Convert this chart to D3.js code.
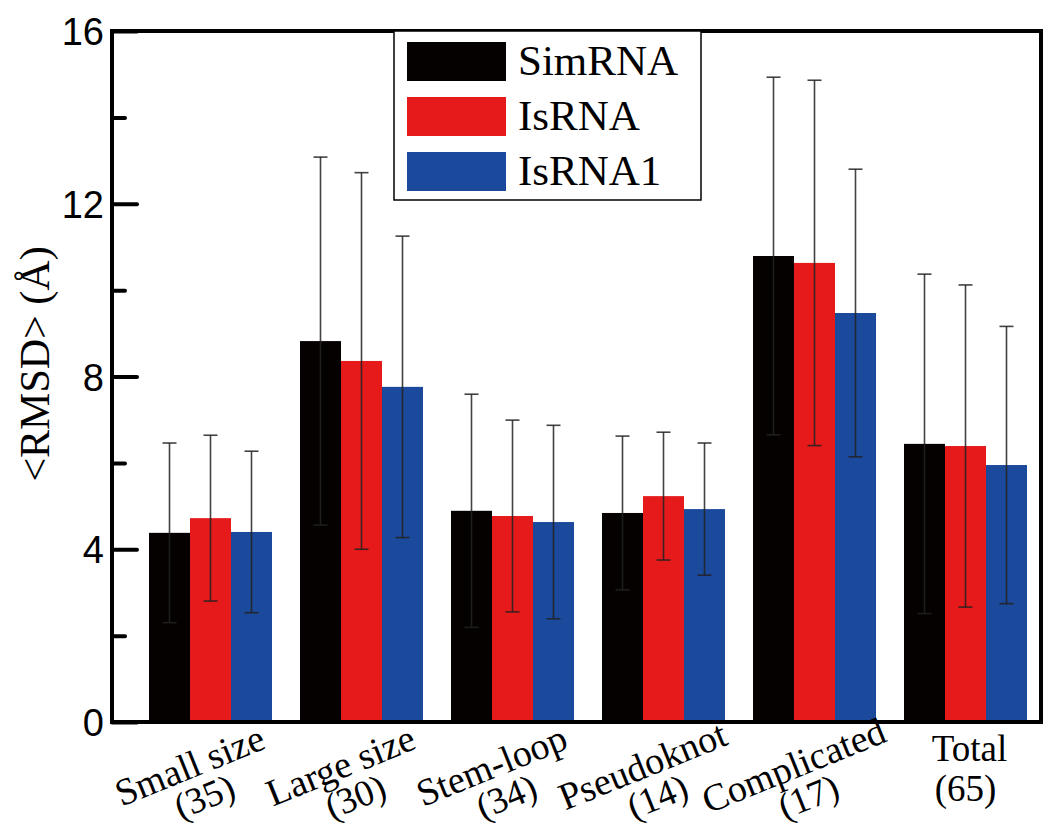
<!DOCTYPE html>
<html>
<head>
<meta charset="utf-8">
<script src="https://cdn.jsdelivr.net/npm/d3@7"></script>
<style>
  html, body { margin: 0; padding: 0; background: #ffffff; }
  svg { display: block; }
</style>
</head>
<body>
<svg id="chart" width="1050" height="835"></svg>
<script>
// ---- data ----
const categories = ["Small size", "Large size", "Stem-loop", "Pseudoknot", "Complicated", "Total"];
const counts = ["(35)", "(30)", "(34)", "(14)", "(17)", "(65)"];
const seriesNames = ["SimRNA", "IsRNA", "IsRNA1"];
const simrnaMean = [4.38, 8.82, 4.89, 4.84, 10.79, 6.44];
const simrnaSD   = [2.08, 4.26, 2.70, 1.78, 4.14, 3.93];
const isrnaMean  = [4.72, 8.36, 4.77, 5.23, 10.63, 6.39];
const isrnaSD    = [1.92, 4.36, 2.22, 1.48, 4.23, 3.73];
const isrna1Mean = [4.40, 7.76, 4.63, 4.93, 9.47, 5.95];
const isrna1SD   = [1.87, 3.49, 2.24, 1.53, 3.33, 3.21];
const yTickValues = [0, 4, 8, 12, 16];
const yMinorTicks = [2, 6, 10, 14];

const colors = ["#050100", "#e6191b", "#1b499b"];
const means = [simrnaMean, isrnaMean, isrna1Mean];
const sds = [simrnaSD, isrnaSD, isrna1SD];

const svg = d3.select("#chart");
const frame = { left: 112, right: 1041, top: 31, bottom: 722 };

const y = d3.scaleLinear().domain([0, 16]).range([frame.bottom, frame.top]);
const pIn = 28 / 151;
const x = d3.scaleBand().domain(categories)
  .range([135, 1041]).paddingInner(pIn).paddingOuter(pIn / 2);
const xs = d3.scaleBand().domain(seriesNames).range([0, x.bandwidth()]);

// bars
const rows = [];
categories.forEach((c, i) => {
  seriesNames.forEach((s, j) => {
    rows.push({ cat: c, ser: s, j, mean: means[j][i], sd: sds[j][i] });
  });
});

const g = svg.append("g");
g.selectAll("rect.bar").data(rows).join("rect")
  .attr("class", "bar")
  .attr("x", d => x(d.cat) + xs(d.ser))
  .attr("width", xs.bandwidth())
  .attr("y", d => y(d.mean))
  .attr("height", d => y(0) - y(d.mean))
  .attr("fill", d => colors[d.j]);

// error bars
const eb = g.selectAll("g.err").data(rows).join("g").attr("class", "err")
  .attr("stroke", "#222").attr("stroke-opacity", 0.85).attr("stroke-width", 1.6);
const cx = d => x(d.cat) + xs(d.ser) + xs.bandwidth() / 2;
eb.append("line")
  .attr("x1", cx).attr("x2", cx)
  .attr("y1", d => y(d.mean + d.sd)).attr("y2", d => y(d.mean - d.sd));
eb.append("line")
  .attr("x1", d => cx(d) - 7).attr("x2", d => cx(d) + 7)
  .attr("y1", d => y(d.mean + d.sd)).attr("y2", d => y(d.mean + d.sd));
eb.append("line")
  .attr("x1", d => cx(d) - 7).attr("x2", d => cx(d) + 7)
  .attr("y1", d => y(d.mean - d.sd)).attr("y2", d => y(d.mean - d.sd));

// frame
svg.append("rect")
  .attr("x", frame.left).attr("y", frame.top)
  .attr("width", frame.right - frame.left).attr("height", frame.bottom - frame.top)
  .attr("fill", "none").attr("stroke", "#000").attr("stroke-width", 4);

// y axis major (inside ticks)
const yAxis = d3.axisRight(y).tickValues(yTickValues).tickSize(25).tickFormat("");
const ya = svg.append("g").attr("transform", `translate(${frame.left},0)`).call(yAxis);
ya.select(".domain").remove();
ya.selectAll(".tick line").attr("stroke", "#000").attr("stroke-width", 4).attr("stroke-linecap", "round");
const yAxisMinor = d3.axisRight(y).tickValues(yMinorTicks).tickSize(13).tickFormat("");
const ym = svg.append("g").attr("transform", `translate(${frame.left},0)`).call(yAxisMinor);
ym.select(".domain").remove();
ym.selectAll(".tick line").attr("stroke", "#000").attr("stroke-width", 4).attr("stroke-linecap", "round");

// y tick labels
const yl = d3.axisLeft(y).tickValues(yTickValues).tickSize(0).tickPadding(8).tickFormat(d3.format("d"));
const yla = svg.append("g").attr("transform", `translate(${frame.left},0)`).call(yl);
yla.select(".domain").remove();
yla.selectAll(".tick text")
  .attr("font-family", "'Liberation Sans', Arial, sans-serif")
  .attr("font-size", 38).attr("fill", "#000").attr("dy", "0.36em");

const serif = "'Liberation Serif', 'Times New Roman', serif";

// y axis title
svg.append("text")
  .attr("transform", "translate(49,364) rotate(-90)")
  .attr("text-anchor", "middle")
  .attr("font-family", serif)
  .attr("font-size", 42).attr("fill", "#000")
  .text("<RMSD> (Å)");

// x labels
categories.forEach((c, i) => {
  const center = x(c) + x.bandwidth() / 2;
  if (c === "Total") {
    const t = svg.append("g").attr("transform", `translate(${center + 4},0)`);
    t.append("text").attr("x", 0).attr("y", 761).attr("text-anchor", "middle")
      .attr("font-family", serif).attr("font-size", 37).text(c);
    t.append("text").attr("x", -4).attr("y", 801).attr("text-anchor", "middle")
      .attr("font-family", serif).attr("font-size", 37).text(counts[i]);
  } else {
    const t = svg.append("g").attr("transform", `translate(${center - 6},797) rotate(-22)`);
    t.append("text").attr("x", -2).attr("y", -22).attr("text-anchor", "middle")
      .attr("font-family", serif).attr("font-size", 38).text(c);
    t.append("text").attr("x", 0).attr("y", 12).attr("text-anchor", "middle")
      .attr("font-family", serif).attr("font-size", 37).text(counts[i]);
  }
});

// legend
const lg = svg.append("g");
lg.append("rect").attr("x", 394).attr("y", 31).attr("width", 307).attr("height", 169)
  .attr("fill", "#fff").attr("stroke", "#000").attr("stroke-width", 1.5);
const leg = d3.scaleBand().domain(seriesNames).range([41, 206]);
seriesNames.forEach((s, j) => {
  lg.append("rect").attr("x", 407).attr("y", leg(s) + 1).attr("width", 99).attr("height", 39)
    .attr("fill", colors[j]);
  lg.append("text").attr("x", 518).attr("y", leg(s) + 34)
    .attr("font-family", serif).attr("font-size", 43).attr("fill", "#000").text(s);
});
</script>
</body>
</html>
